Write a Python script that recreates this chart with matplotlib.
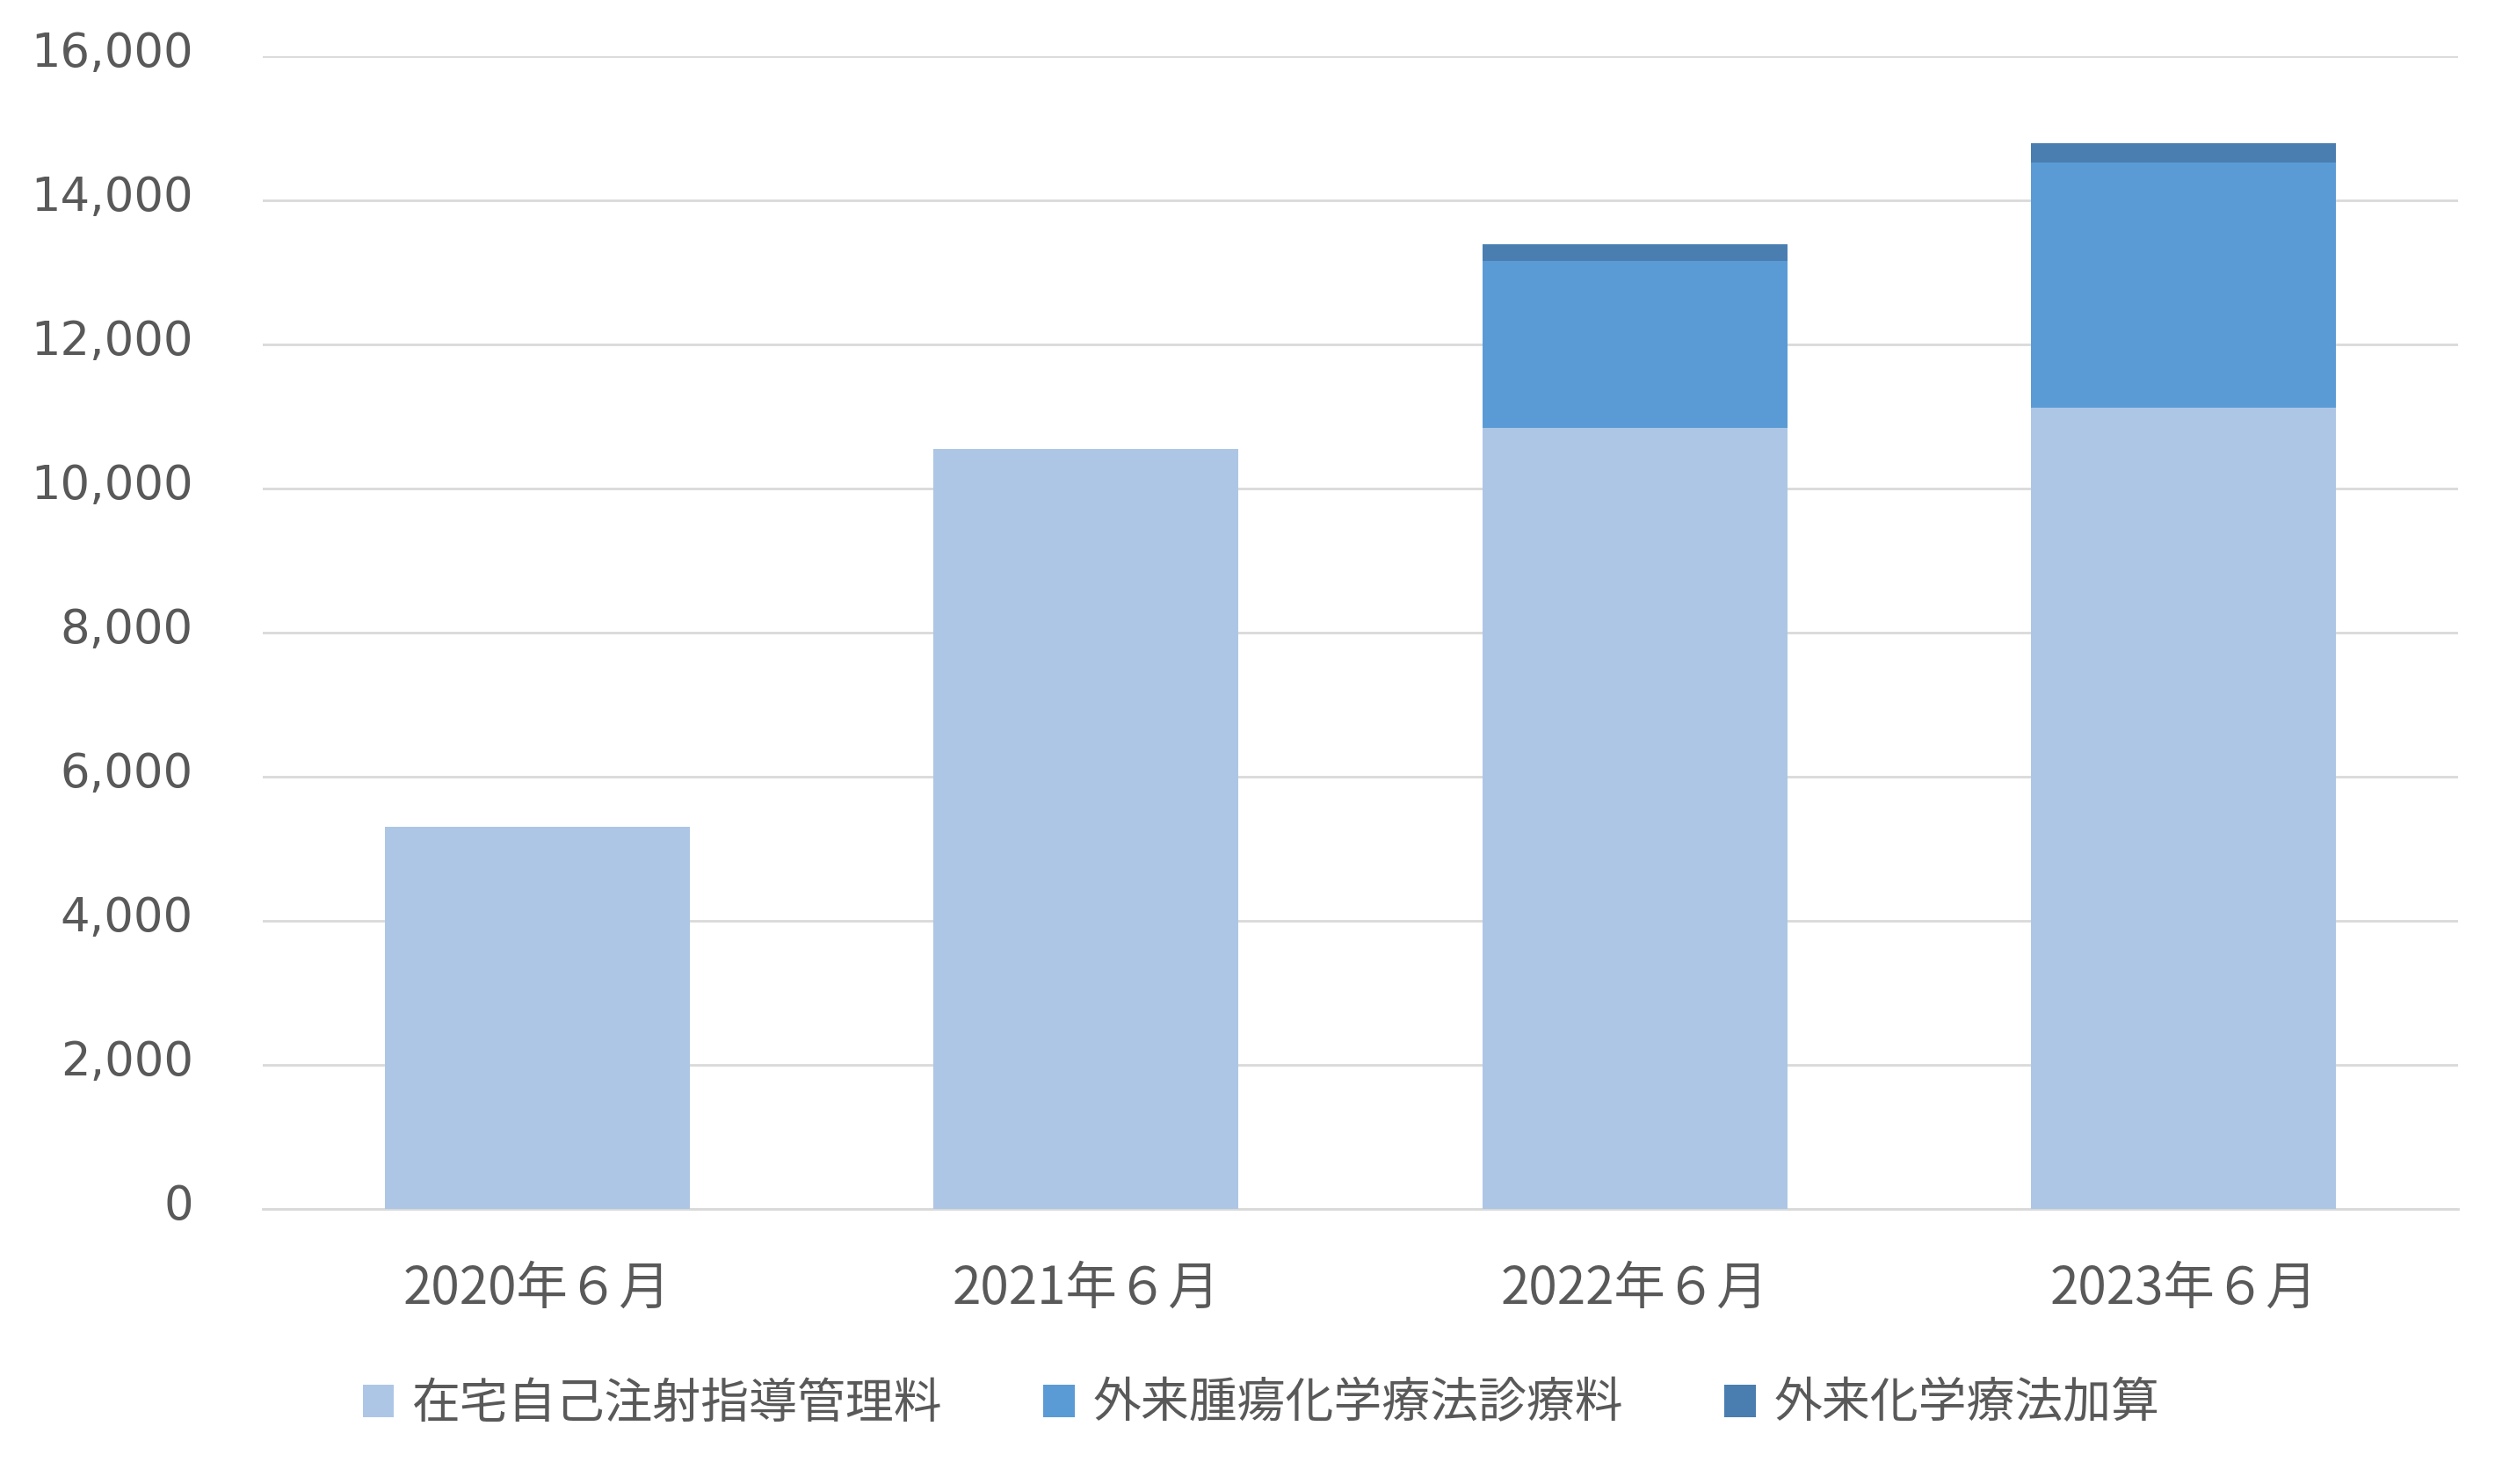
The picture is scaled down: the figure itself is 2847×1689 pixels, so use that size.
import numpy as np
import matplotlib.pyplot as plt
from matplotlib.transforms import ScaledTranslation

# データ
categories = ['2020年６月', '2021年６月', '2022年６月', '2023年６月']
zaitaku = [5306, 10551, 10844, 11128]      # 在宅自己注射指導管理料
shuyou = [0, 0, 2314, 3400]                # 外来腫瘍化学療法診療料
kasan = [0, 0, 232, 265]                   # 外来化学療法加算
series_names = ['在宅自己注射指導管理料', '外来腫瘍化学療法診療料', '外来化学療法加算']
colors = ['#ADC6E5', '#5B9BD5', '#4A7EB0']
yticks = [0, 2000, 4000, 6000, 8000, 10000, 12000, 14000, 16000]

cjk = ['Noto Sans CJK JP', 'DejaVu Sans']
text_color = '#595959'

fig = plt.figure(figsize=(28.47, 16.89), dpi=100)
ax = fig.add_axes([0.105, 0.1853, 0.8774, 0.7766])

x = np.arange(len(categories))
w = 0.556
b1 = ax.bar(x, zaitaku, w, color=colors[0], label=series_names[0], zorder=3)
b2 = ax.bar(x, shuyou, w, bottom=zaitaku, color=colors[1], label=series_names[1], zorder=3)
bottom2 = np.array(zaitaku) + np.array(shuyou)
b3 = ax.bar(x, kasan, w, bottom=bottom2, color=colors[2], label=series_names[2], zorder=3)

ax.set_xlim(-0.5, len(categories) - 0.5)
ax.set_ylim(0, 16000)
ax.set_yticks(yticks)
ax.set_yticklabels([f'{v:,}' for v in yticks], family='DejaVu Sans', fontsize=38, color=text_color)
ax.set_xticks(x)
ax.set_xticklabels(categories, family=cjk, fontsize=42, color=text_color)
ax.tick_params(axis='y', length=0, pad=57)
ax.tick_params(axis='x', length=0, pad=44)

# 目盛りラベルを少し上へ
shift = ScaledTranslation(0, 0.09, fig.dpi_scale_trans)
for lab in ax.get_yticklabels():
    lab.set_transform(lab.get_transform() + shift)

ax.grid(axis='y', color='#D9D9D9', linewidth=2.0, zorder=0)
for s in ['top', 'right', 'left']:
    ax.spines[s].set_visible(False)
ax.spines['bottom'].set_color('#D9D9D9')
ax.spines['bottom'].set_linewidth(2.0)

leg = fig.legend(handles=[b1, b2, b3], loc='center', bbox_to_anchor=(0.504, 0.054),
                 ncol=3, frameon=False, prop={'family': cjk, 'size': 39.5},
                 handlelength=0.65, handleheight=0.65, handletextpad=0.37,
                 columnspacing=2.1)
for t in leg.get_texts():
    t.set_color(text_color)

plt.savefig('out.png', dpi=100)
